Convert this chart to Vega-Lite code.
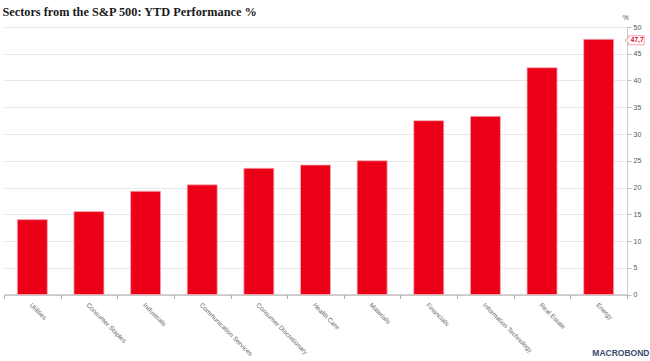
{
  "$schema": "https://vega.github.io/schema/vega-lite/v6.json",
  "width": 623,
  "height": 267.5,
  "autosize": {"type": "none"},
  "padding": {"left": 4, "top": 27, "right": 23, "bottom": 66.5},
  "background": "white",
  "title": {
    "text": "Sectors from the S&P 500: YTD Performance %",
    "anchor": "start",
    "font": "Liberation Serif",
    "fontSize": 12.3,
    "fontWeight": "bold",
    "color": "#1a1a1a",
    "offset": -5,
    "dx": 3
  },
  "data": {
    "values": [
      {"sector": "Utilities", "value": 14.0},
      {"sector": "Consumer Staples", "value": 15.5},
      {"sector": "Industrials", "value": 19.3},
      {"sector": "Communication Services", "value": 20.5},
      {"sector": "Consumer Discretionary", "value": 23.6},
      {"sector": "Health Care", "value": 24.2},
      {"sector": "Materials", "value": 25.0},
      {"sector": "Financials", "value": 32.5},
      {"sector": "Information Technology", "value": 33.3},
      {"sector": "Real Estate", "value": 42.4},
      {"sector": "Energy", "value": 47.7}
    ]
  },
  "encoding": {
    "x": {
      "field": "sector",
      "type": "nominal",
      "sort": null,
      "scale": {"paddingInner": 0, "paddingOuter": 0},
      "axis": {
        "title": "MACROBOND",
        "titleFont": "Liberation Sans",
        "titleFontSize": 8.5,
        "titleFontWeight": "bold",
        "titleColor": "#3b4a6b",
        "titleAnchor": "end",
        "titleAlign": "right",
        "titleBaseline": "alphabetic",
        "titleX": 645,
        "titleY": 61,
        "labelAngle": 45,
        "labelAlign": "left",
        "labelBaseline": "top",
        "labelPadding": 3,
        "labelFont": "Liberation Sans",
        "labelFontSize": 6.5,
        "labelColor": "#666666",
        "tickBand": "extent",
        "tickColor": "#aaaaaa",
        "tickSize": 4,
        "domainColor": "#aaaaaa",
        "grid": false
      }
    },
    "y": {
      "field": "value",
      "type": "quantitative",
      "scale": {"domain": [0, 50]},
      "axis": {
        "orient": "right",
        "values": [0, 5, 10, 15, 20, 25, 30, 35, 40, 45, 50],
        "title": "%",
        "titleAngle": 0,
        "titleX": -2,
        "titleY": -7,
        "titleFont": "Liberation Sans",
        "titleFontSize": 7,
        "titleFontWeight": "normal",
        "titleColor": "#555555",
        "titleAlign": "center",
        "labelFont": "Liberation Sans",
        "labelFontSize": 7,
        "labelColor": "#555555",
        "labelPadding": 2,
        "tickColor": "#bbbbbb",
        "tickSize": 4,
        "domainColor": "#cccccc",
        "gridColor": "#e8e8e8",
        "gridWidth": 1
      }
    }
  },
  "layer": [
    {
      "mark": {"type": "bar", "width": {"band": 0.53}, "fill": "#EC0017", "stroke": "#f5b0b6", "strokeWidth": 0.8}
    },
    {
      "transform": [{"filter": "datum.sector === 'Energy'"}],
      "mark": {
        "type": "point",
        "shape": "M -1 -0.5625 L 1 -0.5625 L 1 0.5625 L -1 0.5625 L -1 0.25 L -1.4 0 L -1 -0.25 Z",
        "size": 256,
        "filled": true,
        "fill": "white",
        "stroke": "#f08a94",
        "strokeWidth": 0.8,
        "opacity": 1,
        "xOffset": 37.5,
        "yOffset": 1
      }
    },
    {
      "transform": [{"filter": "datum.sector === 'Energy'"}],
      "mark": {
        "type": "text",
        "font": "Liberation Sans",
        "fontSize": 6.5,
        "fontWeight": "bold",
        "fill": "#e3001b",
        "align": "center",
        "baseline": "middle",
        "xOffset": 38.5,
        "yOffset": 1
      },
      "encoding": {"text": {"value": "47,7"}}
    }
  ],
  "config": {"view": {"stroke": null}}
}
